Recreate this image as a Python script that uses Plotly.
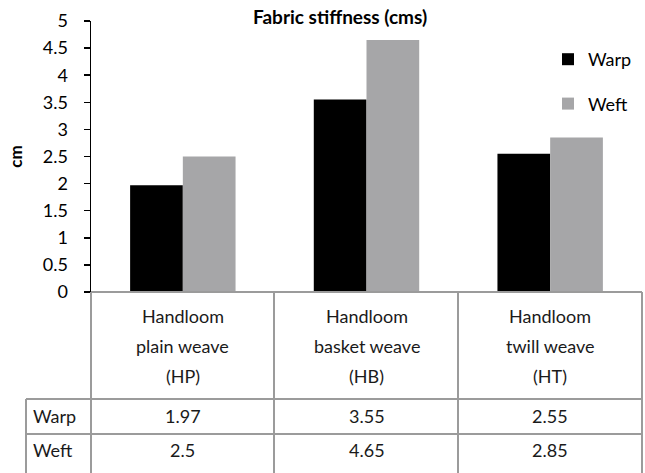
import plotly.graph_objects as go

# ---- data ----
categories = ["Handloom<br>plain weave<br>(HP)",
              "Handloom<br>basket weave<br>(HB)",
              "Handloom<br>twill weave<br>(HT)"]
series_names = ["Warp", "Weft"]
warp = [1.97, 3.55, 2.55]
weft = [2.5, 4.65, 2.85]
y_ticks = [0, 0.5, 1, 1.5, 2, 2.5, 3, 3.5, 4, 4.5, 5]
y_ticktext = ["0", "0.5", "1", "1.5", "2", "2.5", "3", "3.5", "4", "4.5", "5"]

# ---- layout constants ----
W, H = 645, 473
L, R, T, B = 91, 3, 21, 181
PW = W - L - R
PH = H - T - B
FONT = "Lato, 'Open Sans', sans-serif"
GRID = "#9b9b9b"
TXT = "#1a1a1a"
colors = {"Warp": "#000000", "Weft": "#a6a6a8"}


def py(p):  # pixel y -> paper y
    return (H - B - p) / PH


def px(p):  # pixel x -> paper x
    return (p - L) / PW


fig = go.Figure()
for name, vals in zip(series_names, [warp, weft]):
    fig.add_trace(go.Bar(
        x=list(range(len(categories))), y=vals, name=name,
        marker=dict(color=colors[name], line=dict(width=0)),
        legendgroup=name, hoverinfo="skip"))

annotations = []
# category header lines
line_px = [316, 346, 376]
for i, cat in enumerate(categories):
    for j, part in enumerate(cat.split("<br>")):
        annotations.append(dict(x=i, y=py(line_px[j]), xref="x", yref="paper",
                                text=part, showarrow=False,
                                font=dict(size=18, color=TXT, family=FONT),
                                xanchor="center", yanchor="middle"))
# table values
row_px = [416, 450]
for r, (name, vals) in enumerate(zip(series_names, [warp, weft])):
    annotations.append(dict(x=px(31), y=py(row_px[r]), xref="paper", yref="paper",
                            text=name, showarrow=False,
                            font=dict(size=18, color=TXT, family=FONT),
                            xanchor="left", yanchor="middle"))
    for i, v in enumerate(vals):
        annotations.append(dict(x=i, y=py(row_px[r]), xref="x", yref="paper",
                                text=str(v), showarrow=False,
                                font=dict(size=18, color=TXT, family=FONT),
                                xanchor="center", yanchor="middle"))
# title
annotations.append(dict(x=px(340), y=py(16), xref="paper", yref="paper",
                        text="<b>Fabric stiffness (cms)</b>", showarrow=False,
                        font=dict(size=19, color="#000000", family=FONT),
                        xanchor="center", yanchor="middle"))

shapes = []
def line(x0, y0, x1, y1):
    shapes.append(dict(type="line", xref="paper", yref="paper",
                       x0=px(x0), y0=py(y0), x1=px(x1), y1=py(y1),
                       line=dict(color=GRID, width=2), layer="above"))

bottom = 480
line(91, 292, 642, 292)
line(26, 399, 642, 399)
line(26, 434, 642, 434)
for xv in [91, 274, 458, 642]:
    line(xv, 292, xv, bottom)
line(26, 399, 26, bottom)

fig.update_layout(
    width=W, height=H,
    margin=dict(l=L, r=R, t=T, b=B, pad=0),
    paper_bgcolor="white", plot_bgcolor="white",
    font=dict(family=FONT, size=18, color="#000000"),
    barmode="group", bargap=0.426, bargroupgap=0,
    showlegend=True,
    legend=dict(x=px(548), y=py(41), xanchor="left", yanchor="top",
                font=dict(size=18, family=FONT, color="#000000"),
                tracegroupgap=18, bgcolor="rgba(0,0,0,0)",
                itemsizing="constant"),
    xaxis=dict(range=[-0.5, 2.5], showticklabels=False, showline=False,
               showgrid=False, zeroline=False, ticks=""),
    yaxis=dict(range=[0, 5], tickvals=y_ticks, ticktext=y_ticktext,
               showline=True, linecolor="#000000", linewidth=1.5,
               ticks="outside", ticklen=6, tickwidth=1.5, tickcolor="#000000",
               ticklabelstandoff=12,
               showgrid=False, zeroline=False,
               tickfont=dict(size=18, family=FONT, color="#000000"),
               title=dict(text="<b>cm</b>", font=dict(size=17, family=FONT, color="#000000"),
                          standoff=16)),
    annotations=annotations, shapes=shapes,
)

fig.write_html("out.html",
               config={"displayModeBar": False, "staticPlot": True},
               post_script="document.body.style.margin='0px';document.body.style.padding='0px';")
